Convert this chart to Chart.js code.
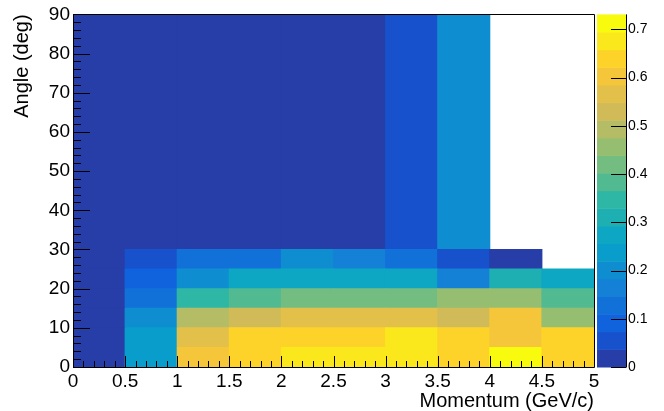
<!DOCTYPE html>
<html><head><meta charset="utf-8">
<script src="https://cdn.jsdelivr.net/npm/chart.js@4/dist/chart.umd.min.js"></script>
<style>html,body{margin:0;padding:0;background:#fff}#wrap{width:664px;height:411px}</style>
</head><body><div id="wrap"><canvas id="c" width="664" height="411"></canvas></div>
<script>
// ---- data ----
const xEdges = [0, 0.5, 1, 1.5, 2, 2.5, 3, 3.5, 4, 4.5, 5];
const yEdges = [0, 5, 10, 15, 20, 25, 30, 90];
// values per angle row (bottom to top), one per momentum bin; null = empty bin
const row0_5   = [0.004, 0.25, 0.60, 0.64, 0.675, 0.675, 0.68, 0.64, 0.731, 0.64];
const row5_10  = [0.004, 0.25, 0.565, 0.64, 0.64, 0.64, 0.68, 0.64, 0.60, 0.64];
const row10_15 = [0.004, 0.20, 0.49, 0.53, 0.565, 0.565, 0.565, 0.53, 0.60, 0.455];
const row15_20 = [0.004, 0.125, 0.345, 0.38, 0.42, 0.42, 0.42, 0.455, 0.455, 0.38];
const row20_25 = [0.004, 0.09, 0.20, 0.27, 0.27, 0.27, 0.27, 0.16, 0.31, 0.27];
const row25_30 = [0.004, 0.055, 0.125, 0.125, 0.20, 0.16, 0.125, 0.055, 0.02, null];
const row30_90 = [0.003, 0.003, 0.003, 0.003, 0.003, 0.003, 0.055, 0.20, null, null];
const rows = [row0_5, row5_10, row10_15, row15_20, row20_25, row25_30, row30_90];
const zMax = 0.731;
const nContours = 20;
const zTicks = [0, 0.1, 0.2, 0.3, 0.4, 0.5, 0.6, 0.7];

// ---- kBird palette ----
const stops = [0, 0.125, 0.25, 0.375, 0.5, 0.625, 0.75, 0.875, 1];
const red   = [0.2082, 0.0592, 0.0780, 0.0232, 0.1802, 0.5301, 0.8186, 0.9956, 0.9764];
const green = [0.1664, 0.3599, 0.5041, 0.6419, 0.7178, 0.7492, 0.7328, 0.7862, 0.9832];
const blue  = [0.5293, 0.8684, 0.8385, 0.7914, 0.6425, 0.4662, 0.3499, 0.1968, 0.0539];
function bird(f) {
  let k = 1;
  while (k < stops.length - 1 && f > stops[k]) k++;
  const t = (f - stops[k-1]) / (stops[k] - stops[k-1]);
  const c = a => Math.round(255 * (a[k-1] + (a[k] - a[k-1]) * t));
  return `rgb(${c(red)},${c(green)},${c(blue)})`;
}
function bandColor(i) { const idx = Math.floor((i + 0.99) * 255 / nContours); return bird(idx / 254); }
function colorFor(v) {
  let i = Math.floor(v / zMax * nContours);
  i = Math.max(0, Math.min(nContours - 1, i));
  return bandColor(i);
}

const FONT = "'Liberation Sans', Arial, Helvetica, sans-serif";
Chart.defaults.font.family = FONT;
Chart.defaults.color = '#000';

const datasets = rows.map((vals, r) => {
  const data = [], colors = [];
  vals.forEach((v, c) => {
    if (v === null) return;
    data.push({ x: (xEdges[c] + xEdges[c+1]) / 2, y: [yEdges[r], yEdges[r+1]], v });
    colors.push(colorFor(v));
  });
  return { data, backgroundColor: colors, borderWidth: 0, grouped: false,
           barPercentage: 1, categoryPercentage: 1, inflateAmount: 0.5 };
});

const decor = {
  id: 'decor',
  afterDraw(chart) {
    const ctx = chart.ctx, a = chart.chartArea;
    const xs = chart.scales.x, ys = chart.scales.y, zs = chart.scales.y2;
    ctx.save();
    // palette
    const pl = 597, pr = 626;
    for (let i = 0; i < nContours; i++) {
      const y0 = zs.getPixelForValue(i * zMax / nContours);
      const y1 = zs.getPixelForValue((i + 1) * zMax / nContours);
      ctx.fillStyle = bandColor(i);
      ctx.fillRect(pl, y1, pr - pl, y0 - y1 + 0.5);
    }
    ctx.strokeStyle = '#000'; ctx.lineWidth = 1;
    ctx.beginPath();
    ctx.moveTo(pr + 0.5, zs.getPixelForValue(0)); ctx.lineTo(pr + 0.5, zs.getPixelForValue(zMax));
    zTicks.forEach(t => { const y = Math.round(zs.getPixelForValue(t)) + 0.5; ctx.moveTo(pr - 15, y); ctx.lineTo(pr + 0.5, y); });
    ctx.stroke();
    // frame
    ctx.beginPath();
    ctx.rect(Math.round(a.left) + 0.5, Math.round(a.top) + 0.5, Math.round(a.right - a.left), Math.round(a.bottom - a.top));
    ctx.stroke();
    // y ticks (inside)
    ctx.beginPath();
    for (let v = 0; v <= 90; v += 2) {
      const y = Math.round(ys.getPixelForValue(v)) + 0.5;
      const len = v % 10 === 0 ? 17 : 8;
      ctx.moveTo(a.left, y); ctx.lineTo(a.left + len, y);
    }
    // x ticks (inside)
    for (let k = 0; k <= 50; k++) {
      const v = k / 10;
      const x = Math.round(xs.getPixelForValue(v)) + 0.5;
      const len = k % 5 === 0 ? 11 : 6;
      ctx.moveTo(x, a.bottom); ctx.lineTo(x, a.bottom - len);
    }
    ctx.stroke();
    ctx.restore();
  }
};

new Chart(document.getElementById('c'), {
  type: 'bar',
  data: { datasets },
  plugins: [decor],
  options: {
    responsive: false, animation: false, devicePixelRatio: 1,
    layout: { padding: { left: 0, right: 0, top: 13, bottom: 0 } },
    plugins: { legend: { display: false }, tooltip: { enabled: false } },
    scales: {
      x: {
        type: 'linear', min: 0, max: 5, offset: false,
        grid: { display: false, drawTicks: false, offset: false },
        border: { display: false },
        ticks: { stepSize: 0.5, padding: 3, maxRotation: 0, autoSkip: false, includeBounds: false,
                 font: { size: 19 }, color: '#000', callback: v => String(+v.toFixed(2)) },
        title: { display: true, text: 'Momentum (GeV/c)', align: 'end', font: { size: 20, lineHeight: 1 }, color: '#000', padding: { top: 0, bottom: 0 } },
        afterFit: s => { s.height = 44; }
      },
      y: {
        type: 'linear', min: 0, max: 90, position: 'left',
        grid: { display: false, drawTicks: false },
        border: { display: false },
        ticks: { stepSize: 10, padding: 3, font: { size: 19 }, color: '#000', includeBounds: false },
        title: { display: true, text: 'Angle (deg)', align: 'end', font: { size: 20, lineHeight: 1 }, color: '#000', padding: { top: 12, bottom: 0 } },
        afterFit: s => { s.width = 73; }
      },
      y2: {
        axis: 'y', type: 'linear', min: 0, max: zMax, position: 'right',
        grid: { display: true, drawOnChartArea: false, drawTicks: true, tickLength: 31, color: 'rgba(0,0,0,0)' },
        border: { display: false },
        ticks: { stepSize: 0.1, padding: 3, font: { size: 14 }, color: '#000', includeBounds: false,
                 callback: v => String(+v.toFixed(2)) },
        afterFit: s => { s.width = 70; }
      }
    }
  }
});
</script></body></html>
